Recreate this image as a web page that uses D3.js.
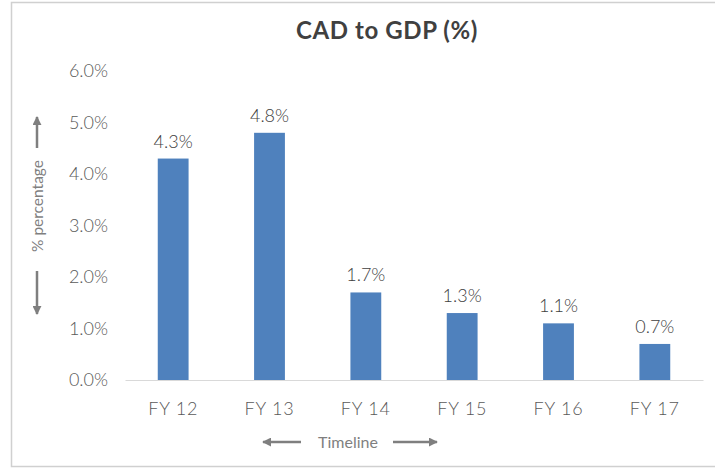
<!DOCTYPE html>
<html>
<head>
<meta charset="utf-8">
<script src="https://cdn.jsdelivr.net/npm/d3@7"></script>
<style>
  html, body { margin: 0; padding: 0; background: #fff; }
  svg { display: block; font-family: "Century Gothic", "Lato", "DejaVu Sans", sans-serif; }
</style>
</head>
<body>
<svg id="chart" width="715" height="469"></svg>
<script>
const categories = ["FY 12", "FY 13", "FY 14", "FY 15", "FY 16", "FY 17"];
const values = [4.3, 4.8, 1.7, 1.3, 1.1, 0.7];
const yTicks = [0, 1, 2, 3, 4, 5, 6];
const title = "CAD to GDP (%)";
const yTitle = "% percentage";
const xTitle = "Timeline";

const svg = d3.select("#chart");
const FONT = "'Century Gothic', 'Lato', sans-serif";

// frame
svg.append("rect").attr("x", 11.5).attr("y", 2.5).attr("width", 720).attr("height", 464)
  .attr("fill", "none").attr("stroke", "#d0d0d0").attr("stroke-width", 1.5);

const x = d3.scaleBand().domain(categories).range([125, 703]).paddingInner(0.68).paddingOuter(0.34);
const y = d3.scaleLinear().domain([0, 6]).range([380, 71]);

// title
svg.append("text").attr("x", 387).attr("y", 39).attr("text-anchor", "middle")
  .attr("font-size", 24).attr("font-weight", "bold").attr("letter-spacing", 0.6)
  .attr("fill", "#404040").text(title);

// y axis
const yAxis = d3.axisLeft(y).tickValues(yTicks).tickSize(0).tickPadding(0)
  .tickFormat(d => d3.format(".1f")(d) + "%");
const gy = svg.append("g").attr("transform", "translate(108,0)").call(yAxis);
gy.select(".domain").remove();
gy.selectAll("text").attr("font-size", 18).attr("font-weight", 300).attr("fill", "#595959")
  .attr("font-family", FONT);

// bars
svg.append("g").selectAll("rect").data(values).join("rect")
  .attr("x", (d, i) => x(categories[i]))
  .attr("width", x.bandwidth())
  .attr("y", d => y(d))
  .attr("height", d => y(0) - y(d))
  .attr("fill", "#4f81bd");

// x axis
const xAxis = d3.axisBottom(x).tickSize(0).tickPadding(22);
const gx = svg.append("g").attr("transform", "translate(0,380)").call(xAxis);
gx.select(".domain").attr("stroke", "#d9d9d9").attr("stroke-width", 1.2);
gx.selectAll("text").attr("font-size", 18).attr("font-weight", 300).attr("fill", "#595959")
  .attr("letter-spacing", 0.8).attr("font-family", FONT);

// data labels
svg.append("g").selectAll("text").data(values).join("text")
  .attr("x", (d, i) => x(categories[i]) + x.bandwidth() / 2)
  .attr("y", d => y(d) - 11)
  .attr("text-anchor", "middle").attr("font-size", 18).attr("font-weight", 300).attr("fill", "#404040")
  .text(d => d3.format(".1f")(d) + "%");

// arrow marker
const defs = svg.append("defs");
defs.append("marker").attr("id", "ah").attr("viewBox", "0 0 10 10")
  .attr("refX", 9).attr("refY", 5).attr("markerWidth", 3.6).attr("markerHeight", 3.6)
  .attr("orient", "auto-start-reverse")
  .append("path").attr("d", "M0,0 L10,5 L0,10 Z").attr("fill", "#7f7f7f");

// x title with arrows
svg.append("text").attr("x", 348).attr("y", 448).attr("text-anchor", "middle")
  .attr("font-size", 16).attr("fill", "#7f7f7f").text(xTitle);
svg.append("line").attr("x1", 301).attr("x2", 263).attr("y1", 442).attr("y2", 442)
  .attr("stroke", "#7f7f7f").attr("stroke-width", 2.5).attr("marker-end", "url(#ah)");
svg.append("line").attr("x1", 393).attr("x2", 437).attr("y1", 442).attr("y2", 442)
  .attr("stroke", "#7f7f7f").attr("stroke-width", 2.5).attr("marker-end", "url(#ah)");

// y title with arrows
svg.append("text").attr("transform", "translate(43,206) rotate(-90)").attr("text-anchor", "middle")
  .attr("font-size", 15.5).attr("fill", "#7f7f7f").text(yTitle);
svg.append("line").attr("x1", 37).attr("x2", 37).attr("y1", 148).attr("y2", 117)
  .attr("stroke", "#7f7f7f").attr("stroke-width", 2.5).attr("marker-end", "url(#ah)");
svg.append("line").attr("x1", 37).attr("x2", 37).attr("y1", 271).attr("y2", 314)
  .attr("stroke", "#7f7f7f").attr("stroke-width", 2.5).attr("marker-end", "url(#ah)");
</script>
</body>
</html>
